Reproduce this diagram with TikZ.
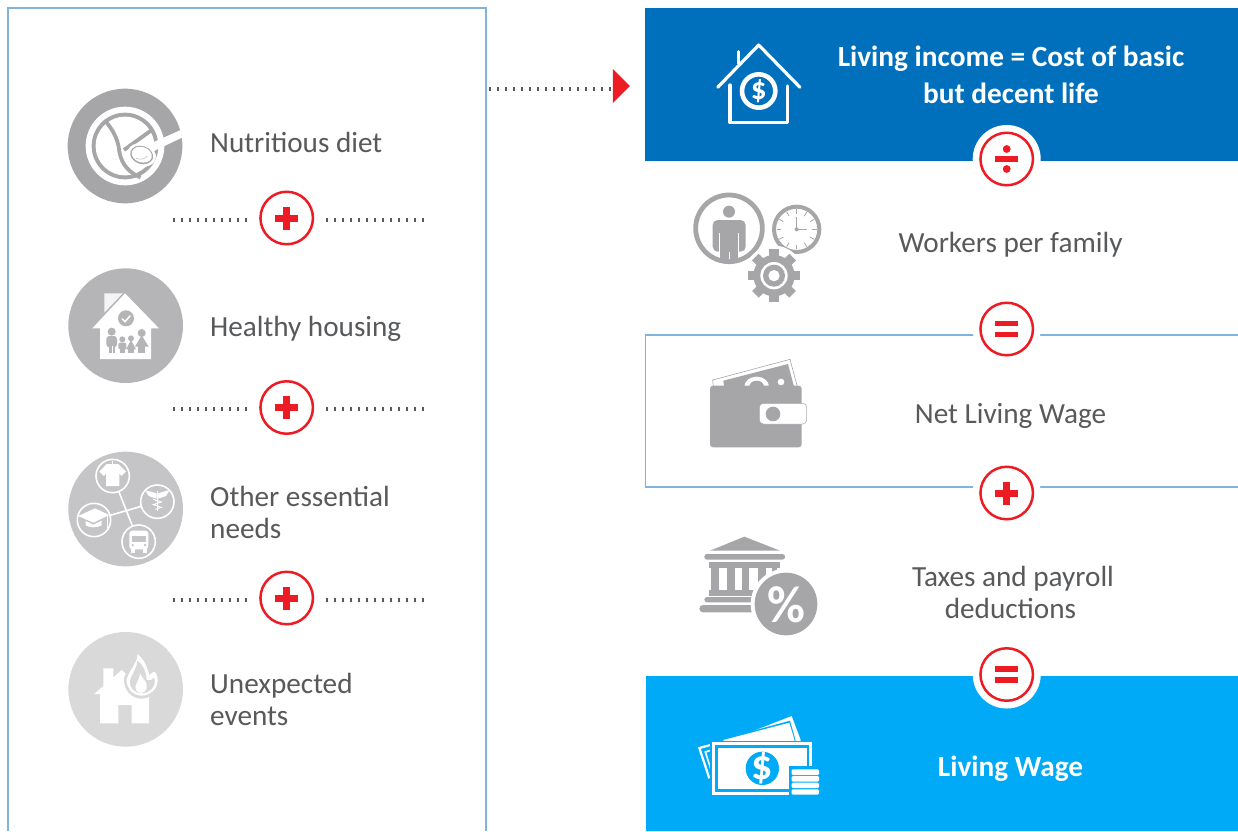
\documentclass[tikz,border=0pt]{standalone}
\usepackage{fontspec}
\setmainfont{Carlito}
\usetikzlibrary{shapes.geometric}
\definecolor{framec}{HTML}{7FB4DE}
\definecolor{deepblue}{HTML}{0070BC}
\definecolor{skyblue}{HTML}{00AAF6}
\definecolor{redc}{HTML}{ED1C24}
\definecolor{txtc}{HTML}{58595B}
\definecolor{icong}{HTML}{A6A6A9}
\definecolor{g1}{HTML}{A6A6A8}
\definecolor{g2}{HTML}{B5B5B7}
\definecolor{g3}{HTML}{C5C5C7}
\definecolor{g4}{HTML}{D9D9DA}
\tikzset{
  body/.style={font=\fontsize{29.2}{32}\selectfont,text=txtc,inner sep=0pt},
  lefttext/.style={body,anchor=west,align=left},
  righttext/.style={body,align=center},
  banner/.style={font=\fontsize{29.3}{37}\selectfont\bfseries,text=white,inner sep=0pt,align=center},
  opnode/.style={circle,draw=redc,line width=2.5pt,fill=white,minimum size=52.5pt,inner sep=0pt},
  dotline/.style={txtc,line width=4pt,dash pattern=on 2pt off 6pt},
  frameline/.style={framec,line width=1.4pt},
  zoomed/.style={x=0.33333pt,y=-0.33333pt}
}
\newcommand{\opAt}[2]{\fill[white] (#2) circle (34); \node[opnode] (#1) at (#2) {};}
\newcommand{\plusGlyph}[1]{\fill[redc] ([xshift=-11.5pt,yshift=-3.5pt]#1.center) rectangle ([xshift=11.5pt,yshift=3.5pt]#1.center);
  \fill[redc] ([xshift=-3.5pt,yshift=-11.5pt]#1.center) rectangle ([xshift=3.5pt,yshift=11.5pt]#1.center);}
\newcommand{\eqGlyph}[1]{\fill[redc] ([xshift=-11.5pt,yshift=2.8pt]#1.center) rectangle ([xshift=11.5pt,yshift=8.2pt]#1.center);
  \fill[redc] ([xshift=-11.5pt,yshift=-8.2pt]#1.center) rectangle ([xshift=11.5pt,yshift=-2.8pt]#1.center);}
\newcommand{\divGlyph}[1]{\fill[redc] ([xshift=-11.5pt,yshift=-2.8pt]#1.center) rectangle ([xshift=11.5pt,yshift=2.8pt]#1.center);
  \fill[redc] ([yshift=10pt]#1.center) circle (3.9);
  \fill[redc] ([yshift=-10pt]#1.center) circle (3.9);}
\begin{document}
\begin{tikzpicture}[x=1pt,y=-1pt]
\useasboundingbox (0,0) rectangle (1238,831);
\fill[white] (0,0) rectangle (1238,831);

% frames and banners
\draw[frameline] (8,831) -- (8,8) -- (486,8) -- (486,831);
\fill[deepblue] (645,8) rectangle (1238,161);
\fill[skyblue] (646,676) rectangle (1238,831);
\draw[frameline] (1238,335) -- (645.5,335) -- (645.5,487) -- (1238,487);

% icon 1: diet
\begin{scope}[shift={(50,70)},zoomed]
  \fill[g1] (225,228) circle (172);
  \fill[white] (225,228) circle (118);
  \fill[g1] (225,228) circle (100);
  \fill[white] (225,228) circle (88);
  \draw[g1,line width=3.8pt] (163,150) .. controls (195,185) and (205,215) .. (208,245) .. controls (215,285) and (240,310) .. (272,322);
  \draw[g1,line width=3.8pt] (222,240) -- (308,178);
  \fill[white,rotate around={-18:(275,255)}] (275,255) ellipse [x radius=44,y radius=34];
  \fill[white] (392,180) -- (396,203) -- (312,243) -- (298,222) -- cycle;
  \fill[g1,rotate around={-18:(275,255)}] (275,255) ellipse [x radius=35,y radius=27];
  \fill[white,rotate around={-18:(275,255)}] (275,254) ellipse [x radius=31,y radius=23];
  \draw[g1!70!white,line width=0.6pt] (258,265) .. controls (270,270) and (285,268) .. (292,258);
\end{scope}
\node[lefttext] (t1) at (210,142.5) {Nutritious diet};

% icon 2: housing
\begin{scope}[shift={(50,70)},zoomed]
  \fill[g2] (227,767) circle (172);
  \fill[white] (225,670) -- (327,775) -- (303,775) -- (303,867) -- (150,867) -- (150,775) -- (127,775) -- cycle;
  \fill[white!85!g2] (163,670) -- (218,670) -- (163,728) -- cycle;
  \fill[g2] (228,745) circle (24);
  \draw[white,line width=1.5pt] (216,746) -- (225,755) -- (241,737);
  % man
  \fill[g2] (185,785) circle (12);
  \fill[g2,rounded corners=3pt] (169,798) rectangle (201,832);
  \fill[g2] (176,810) rectangle (195,850);
  \draw[white,line width=0.6pt] (185.5,828) -- (185.5,850);
  % boy
  \fill[g2] (217,808) circle (9);
  \fill[g2,rounded corners=2pt] (205,818) rectangle (229,838);
  \fill[g2] (210,825) rectangle (224,850);
  % girl
  \fill[g2] (243,805) circle (9);
  \fill[g2] (243,810) -- (258,838) -- (228,838) -- cycle;
  \fill[g2] (235,834) rectangle (251,850);
  % woman
  \fill[g2] (275,789) circle (12);
  \fill[g2] (275,796) -- (296,830) -- (255,830) -- cycle;
  \fill[g2] (264,826) rectangle (286,850);
\end{scope}
\node[lefttext] (t2) at (210,328.5) {Healthy housing};

% icon 3: needs
\begin{scope}[shift={(50,440)},zoomed]
  \fill[g3] (227,207) circle (172);
  \draw[white,line width=1.6pt] (188,108) -- (266,305) (322,185) -- (132,240);
  \foreach \c in {(188,108),(322,185),(132,240),(266,305)}
    \draw[white,line width=1.6pt,fill=g3] \c circle (50);
  % shirt
  \fill[white] (170,72) -- (205,72) -- (228,95) -- (214,108) -- (208,100) -- (208,138) -- (168,138) -- (168,100) -- (162,108) -- (148,95) -- cycle;
  \draw[white,line width=0.7pt] (188,72) -- (188,63);
  % caduceus
  \fill[white] (285,150) -- (320,160) -- (320,176) -- (296,168) -- cycle;
  \fill[white] (359,150) -- (324,160) -- (324,176) -- (348,168) -- cycle;
  \draw[white,line width=1pt] (322,152) -- (322,212);
  \draw[white,line width=1pt] (310,178) -- (334,186) -- (310,194) -- (334,202) -- (316,208);
  % cap
  \fill[white] (85,228) -- (135,205) -- (178,225) -- (130,248) -- cycle;
  \fill[white] (107,243) -- (130,254) -- (155,242) -- (155,256) .. controls (140,264) and (120,264) .. (107,256) -- cycle;
  \draw[white,line width=0.8pt] (172,228) -- (172,268);
  % bus
  \fill[white,rounded corners=3pt] (238,272) rectangle (295,328);
  \fill[g3] (246,287) rectangle (287,305);
  \fill[g3] (248,315) circle (4);
  \fill[g3] (285,315) circle (4);
  \fill[white] (243,326) rectangle (254,338);
  \fill[white] (279,326) rectangle (290,338);
\end{scope}
\node[lefttext] (t3) at (210,512) {Other essential\\needs};

% icon 4: events
\begin{scope}[shift={(50,440)},zoomed]
  \fill[g4] (227,748) circle (172);
  \fill[white] (133,762) -- (160,738) -- (160,685) -- (190,685) -- (190,712) -- (215,690) -- (297,765) -- (297,850) -- (245,850) -- (245,795) -- (205,795) -- (205,850) -- (150,850) -- (150,762) -- cycle;
  \fill[g4] (262,632) .. controls (262,660) and (232,680) .. (222,715) .. controls (220,750) and (245,776) .. (275,776) .. controls (315,776) and (342,730) .. (325,695) .. controls (310,670) and (300,680) .. (293,682) .. controls (285,665) and (275,645) .. (262,632) -- cycle;
  \fill[white] (262,642) .. controls (265,665) and (240,685) .. (230,718) .. controls (228,745) and (250,767) .. (275,767) .. controls (310,767) and (335,730) .. (318,700) .. controls (312,690) and (305,700) .. (298,706) .. controls (292,680) and (280,655) .. (262,642) -- cycle;
  \fill[g4] (262,662) .. controls (262,685) and (245,700) .. (240,722) .. controls (238,745) and (255,760) .. (275,760) .. controls (300,760) and (322,735) .. (312,712) .. controls (305,722) and (298,722) .. (290,720) .. controls (288,695) and (280,675) .. (262,662) -- cycle;
  \fill[white] (270,700) .. controls (275,715) and (295,725) .. (290,745) .. controls (285,758) and (270,766) .. (258,750) .. controls (250,735) and (268,725) .. (270,700) -- cycle;
\end{scope}
\node[lefttext] (t4) at (210,699) {Unexpected\\events};

% living income icon
\begin{scope}[shift={(680,30)},zoomed]
  \draw[white,line width=3.2pt,line cap=round,line join=round] (113,172) -- (236,45) -- (360,172);
  \draw[white,line width=3.2pt,line cap=round] (176,65) -- (176,100);
  \draw[white,line width=3.2pt,line cap=round,line join=round] (150,165) -- (150,278) -- (323,278) -- (323,168);
  \draw[white,line width=4.6pt] (236,183) circle (50);
  \node[text=white,inner sep=0pt,font=\fontsize{31}{31}\selectfont\bfseries] (dollarA) at (236,184) {\$};
\end{scope}
\node[banner] (t5) at (1011,75) {Living income = Cost of basic\\but decent life};

% workers icon
\begin{scope}[shift={(680,30)},zoomed]
  \draw[icong,line width=4.8pt] (147,595) circle (100);
  \fill[icong] (147,545) circle (18);
  \fill[icong,rounded corners=5pt] (98,570) rectangle (197,665);
  \fill[icong] (120,600) rectangle (175,688);
  \draw[white,line width=0.8pt] (119,610) -- (119,668) (176,610) -- (176,668);
  \draw[white,line width=0.8pt] (147.5,665) -- (147.5,688);
  \draw[icong,line width=4pt] (350,598) circle (68);
  \begin{scope}[shift={(350,598)}]
    \foreach \a in {0,30,...,330}
      \draw[icong,line width=0.8pt] (\a:46) -- (\a:60);
  \end{scope}
  \draw[icong,line width=1pt] (350,560) -- (350,598) -- (382,598);
  \fill[icong] (350,598) circle (6);
  \fill[white] (282,737) circle (90);
  \foreach \a in {0,45,...,315}
    \fill[icong,rotate around={\a:(282,737)}] (268,658) rectangle (296,700);
  \fill[icong] (282,737) circle (62);
  \fill[white] (282,737) circle (41);
  \fill[icong] (282,737) circle (33);
  \fill[white] (282,737) circle (17);
\end{scope}
\node[righttext] (t6) at (1010.5,245) {Workers per family};

% wallet icon
\begin{scope}[shift={(680,350)},zoomed]
  \fill[white,draw=icong,line width=0.6pt] (100,110) -- (98,90) -- (330,28) -- (352,110) -- cycle;
  \fill[icong] (132,110) -- (130,92) -- (324,42) -- (342,110) -- cycle;
  \fill[white] (230,110) ++(-37,0) arc (180:360:37 and 30) -- cycle;
  \fill[icong] (230,110) ++(-22,0) arc (180:360:22 and 18) -- cycle;
  \fill[white] (303,96) circle (10);
  \fill[icong,rounded corners=3pt] (90,107) rectangle (365,292);
  \fill[white,draw=icong,line width=0.5pt,rounded corners=4pt] (238,160) rectangle (380,222);
  \fill[icong] (279,192) circle (22);
\end{scope}
\node[righttext] (t7) at (1010.5,416) {Net Living Wage};

% bank icon
\begin{scope}[shift={(680,530)},zoomed]
  \fill[icong] (90,62) -- (193,20) -- (300,62) -- cycle;
  \fill[icong,rounded corners=2.6pt] (73,72) rectangle (315,89);
  \fill[icong] (87,97) rectangle (300,113);
  \foreach \xa/\xb in {92/118,142/165,185/208,235/258,275/292}
    \fill[icong] (\xa,113) rectangle (\xb,180);
  \fill[icong] (87,180) rectangle (300,197);
  \fill[icong,rounded corners=2.6pt] (73,201) rectangle (315,217);
  \fill[icong,rounded corners=3.6pt] (58,225) rectangle (315,247);
  \fill[white] (318,222) circle (106);
  \fill[icong] (318,222) circle (94);
  \node[text=white,inner sep=0pt,font=\fontsize{52}{52}\selectfont\bfseries] (pct) at (318,224) {\%};
\end{scope}
\node[righttext] (t8) at (1010.5,592.5) {\hspace*{5pt}Taxes and payroll\\deductions};

% money icon
\begin{scope}[shift={(680,530)},zoomed]
  \fill[white] (100,650) -- (335,558) -- (362,630) -- (362,660) -- (100,660) -- cycle;
  \fill[skyblue] (125,628) -- (330,572) -- (347,632) -- (125,650) -- cycle;
  \fill[white] (130,630) -- (328,578) -- (344,632) -- (130,650) -- cycle;
  \draw[white,line width=2.2pt,line join=miter] (95,644) -- (58,654) -- (88,745);
  \draw[white,line width=1.6pt] (95,660) -- (76,666) -- (95,725);
  \fill[skyblue] (90,632) rectangle (402,802);
  \fill[white] (97,637) rectangle (397,795);
  \fill[skyblue] (105,646) rectangle (388,787);
  \fill[white] (113,655) rectangle (380,778);
  \fill[skyblue] (247,715) circle (50);
  \node[text=white,inner sep=0pt,font=\fontsize{42}{42}\selectfont\bfseries] (dollarB) at (247,716) {\$};
  \fill[skyblue] (326,708) rectangle (425,800);
  \foreach \ya/\yb in {718/735,738/755,758/774,778/794}
    \fill[white,rounded corners=1.2pt] (335,\ya) rectangle (417,\yb);
\end{scope}
\node[banner] (t9) at (1010.5,769) {Living Wage};

% operators
\opAt{plusA}{286.7,218}\plusGlyph{plusA}
\opAt{plusB}{286.7,407.5}\plusGlyph{plusB}
\opAt{plusC}{286.7,598}\plusGlyph{plusC}
\opAt{opDiv}{1006.7,159}\divGlyph{opDiv}
\opAt{opEqA}{1006.7,329}\eqGlyph{opEqA}
\opAt{opPlus}{1006.7,493}\plusGlyph{opPlus}
\opAt{opEqB}{1006.7,674.5}\eqGlyph{opEqB}

% dotted connectors
\coordinate (la) at (173,219.5); \coordinate (ra) at (424,219.5);
\coordinate (lb) at (173,409); \coordinate (rb) at (424,409);
\coordinate (lc) at (173,599.5); \coordinate (rc) at (424,599.5);
\coordinate (starta) at (489,89);
\node[isosceles triangle,isosceles triangle apex angle=90,isosceles triangle stretches,fill=redc,inner sep=0pt,minimum width=34pt,minimum height=17pt] (tip) at (620,86) {};
\draw[dotline] (la) -- ([xshift=-11pt]plusA.west |- la);
\draw[dotline] (ra) -- ([xshift=11pt]plusA.east |- ra);
\draw[dotline] (lb) -- ([xshift=-11pt]plusB.west |- lb);
\draw[dotline] (rb) -- ([xshift=11pt]plusB.east |- rb);
\draw[dotline] (lc) -- ([xshift=-11pt]plusC.west |- lc);
\draw[dotline] (rc) -- ([xshift=11pt]plusC.east |- rc);
\draw[dotline] (starta) -- (tip.west |- starta);
\end{tikzpicture}
\end{document}
